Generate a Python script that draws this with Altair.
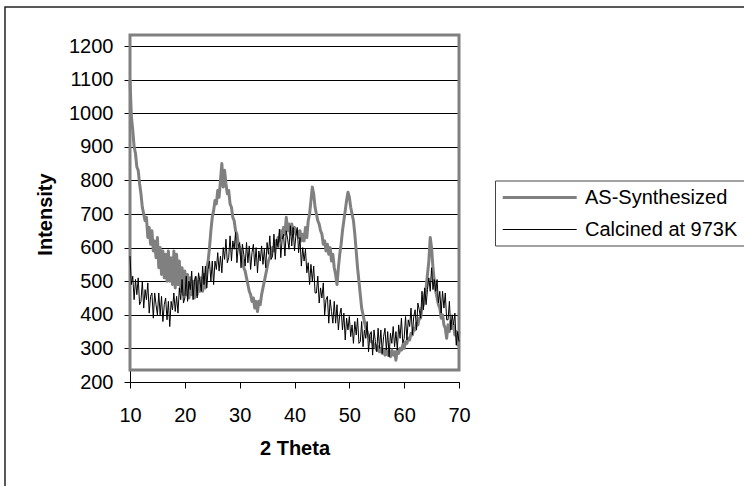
import altair as alt
import pandas as pd

# 2-theta grid: 10 to 70 in steps of 0.25 degrees
theta_start = 10.0
theta_step = 0.25

as_synthesized = [
    1100, 990, 950, 900, 880, 840, 830, 790,
    760, 720, 700, 680, 690, 630, 660, 610,
    650, 590, 620, 570, 630, 540, 600, 520,
    590, 510, 580, 500, 590, 500, 570, 490,
    590, 480, 580, 490, 560, 470, 540, 460,
    530, 460, 520, 450, 510, 460, 500, 450,
    510, 460, 500, 470, 510, 470, 520, 480,
    540, 560, 600, 650, 690, 710, 740, 730,
    770, 750, 800, 850, 780, 830, 790, 760,
    770, 730, 720, 690, 680, 650, 640, 610,
    600, 580, 560, 540, 530, 510, 490, 470,
    460, 440, 450, 420, 440, 410, 440, 430,
    460, 480, 500, 520, 540, 560, 570, 590,
    600, 590, 620, 610, 630, 620, 650, 630,
    660, 640, 690, 650, 670, 640, 670, 650,
    660, 640, 650, 630, 650, 620, 640, 620,
    660, 630, 680, 700, 740, 780, 760, 720,
    700, 680, 670, 650, 640, 610, 620, 590,
    610, 580, 600, 560, 580, 540, 520, 490,
    540, 580, 610, 650, 680, 710, 740, 765,
    750, 720, 700, 680, 640, 590, 540, 500,
    460, 420, 400, 380, 360, 350, 340, 330,
    320, 320, 305, 310, 295, 305, 290, 300,
    285, 295, 280, 295, 280, 290, 275, 295,
    280, 290, 265, 295, 285, 300, 295, 310,
    300, 320, 315, 330, 325, 345, 340, 360,
    355, 375, 370, 390, 390, 420, 430, 460,
    480, 520, 560, 630, 600, 540, 500, 470,
    450, 430, 420, 390, 400, 370, 360, 330,
    370, 350, 380, 360, 370, 340, 350, 310,
    350,
]

calcined = [
    575, 490, 515, 445, 505, 460, 510, 430,
    440, 500, 420, 475, 445, 495, 405, 455,
    465, 390, 465, 430, 400, 465, 400, 455,
    380, 430, 450, 385, 440, 365, 440, 415,
    465, 410, 455, 405, 480, 445, 505, 435,
    450, 515, 440, 500, 475, 530, 445, 500,
    515, 450, 525, 500, 470, 545, 490, 545,
    480, 535, 560, 500, 560, 490, 560, 535,
    585, 530, 575, 525, 600, 565, 625, 555,
    570, 635, 560, 620, 595, 645, 555, 605,
    615, 540, 610, 580, 545, 615, 555, 605,
    535, 585, 610, 545, 600, 525, 590, 560,
    605, 550, 595, 540, 615, 580, 635, 565,
    575, 640, 565, 625, 600, 655, 570, 625,
    640, 575, 650, 625, 595, 665, 605, 660,
    590, 635, 660, 585, 630, 545, 600, 560,
    595, 525, 555, 490, 550, 500, 545, 465,
    465, 515, 435, 480, 450, 495, 400, 445,
    455, 375, 445, 410, 375, 440, 375, 430,
    355, 400, 420, 355, 405, 325, 390, 355,
    395, 335, 370, 315, 380, 340, 390, 315,
    320, 380, 305, 355, 330, 380, 290, 340,
    350, 280, 355, 320, 290, 360, 300, 355,
    285, 335, 360, 295, 350, 275, 345, 315,
    365, 305, 350, 295, 370, 330, 390, 315,
    330, 395, 325, 385, 365, 420, 340, 395,
    415, 355, 435, 415, 390, 470, 415, 480,
    430, 475, 510, 470, 540, 475, 505, 470,
    505, 435, 470, 405, 470, 420, 465, 385,
    385, 440, 355, 400, 370, 405, 310, 350,
    320,
]

series_names = ["AS-Synthesized", "Calcined at 973K"]
series_colors = ["#808080", "#000000"]
series_widths = [3, 1]

x_ticks = [10, 20, 30, 40, 50, 60, 70]
y_ticks = [200, 300, 400, 500, 600, 700, 800, 900, 1000, 1100, 1200]

# Excel-style plot-area frame (in data units)
frame_x = [10, 70]
frame_y = [1233, 236]

FONT = "Liberation Sans"

rows = []
for name, vals in zip(series_names, [as_synthesized, calcined]):
    for i, v in enumerate(vals):
        rows.append({"theta": theta_start + theta_step * i, "intensity": v, "series": name})
df = pd.DataFrame(rows)

frame_df = pd.DataFrame({"x": [frame_x[0]], "x2": [frame_x[1]], "y": [frame_y[0]], "y2": [frame_y[1]]})

x_scale = alt.Scale(domain=[10, 70], nice=False, zero=False)
y_scale = alt.Scale(domain=[200, 1200], nice=False, zero=False)

x_axis = alt.Axis(
    values=x_ticks,
    title="2 Theta",
    grid=False,
    format="d",
    labelFlush=False,
    labelFont=FONT,
    labelFontSize=20,
    labelColor="#000000",
    labelBaseline="middle",
    labelPadding=27,
    tickSize=6,
    tickColor="#000000",
    domainColor="#000000",
    titleFont=FONT,
    titleFontSize=20,
    titleFontWeight="bold",
    titleColor="#000000",
    titleBaseline="middle",
    titleY=66,
)
y_axis = alt.Axis(
    values=y_ticks,
    title="Intensity",
    grid=True,
    gridColor="#000000",
    gridWidth=1,
    format="d",
    labelFlush=False,
    labelOverlap=False,
    labelFont=FONT,
    labelFontSize=20,
    labelColor="#000000",
    labelPadding=11,
    tickSize=6,
    tickColor="#000000",
    domainColor="#000000",
    titleFont=FONT,
    titleFontSize=20,
    titleFontWeight="bold",
    titleColor="#000000",
    titleBaseline="middle",
    titleX=-85,
    titleY=168,
)

color = alt.Color(
    "series:N",
    title=None,
    scale=alt.Scale(domain=series_names, range=series_colors),
    legend=alt.Legend(
        orient="none",
        legendX=365,
        legendY=134.5,
        symbolType="M-1,0H7",
        symbolSize=342,
        labelOffset=62,
        labelFont=FONT,
        labelFontSize=20,
        labelColor="#000000",
        labelLimit=400,
        strokeColor="#444444",
        fillColor="#ffffff",
        padding=6,
        rowPadding=12,
    ),
)
stroke_width = alt.StrokeWidth(
    "series:N",
    title=None,
    scale=alt.Scale(type="ordinal", domain=series_names, range=series_widths),
)

x_enc = alt.X("theta:Q", scale=x_scale, axis=x_axis)
y_enc = alt.Y("intensity:Q", scale=y_scale, axis=y_axis)

outer = alt.Chart(frame_df).mark_rect(
    fill="transparent", stroke="#222222", strokeWidth=1.5
).encode(
    x=alt.value(-125), x2=alt.value(640), y=alt.value(-39), y2=alt.value(460)
)

frame = alt.Chart(frame_df).mark_rect(
    fill="transparent", stroke="#808080", strokeWidth=3
).encode(
    x=alt.X("x:Q", scale=x_scale, axis=x_axis),
    x2="x2:Q",
    y=alt.Y("y:Q", scale=y_scale, axis=y_axis),
    y2="y2:Q",
)

base = alt.Chart(df).mark_line(strokeJoin="round")

layer_as = base.transform_filter(alt.datum.series == series_names[0]).encode(
    x=x_enc, y=y_enc, color=color, strokeWidth=stroke_width
)
layer_cal = base.transform_filter(alt.datum.series == series_names[1]).encode(
    x=x_enc, y=y_enc, color=color, strokeWidth=stroke_width
)

chart = alt.layer(outer, frame, layer_as, layer_cal).properties(
    width=329,
    height=336,
    autosize=alt.AutoSizeParams(type="none"),
    padding={"left": 130, "top": 46, "right": 285, "bottom": 104},
    background="#ffffff",
).configure_view(strokeWidth=0)

chart.save("out.html", embed_options={"renderer": "svg", "actions": False})
